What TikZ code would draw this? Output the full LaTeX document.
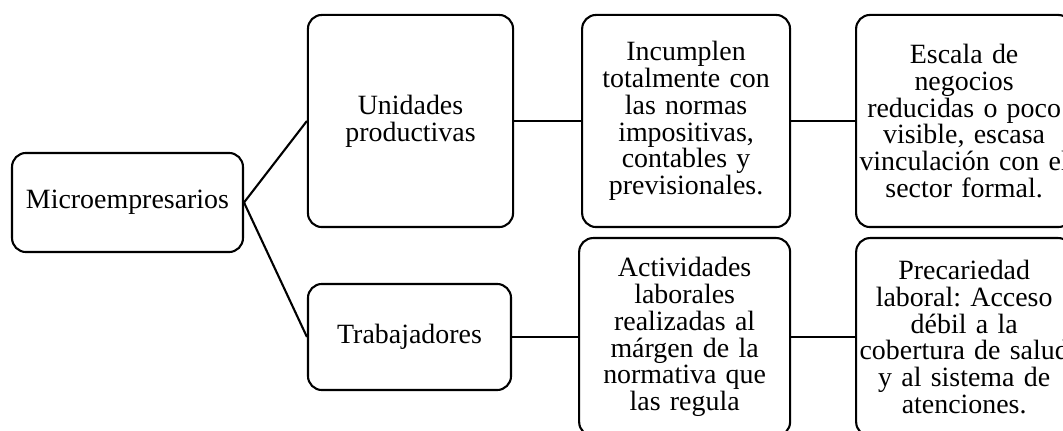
\documentclass[tikz,border=0pt]{standalone}
\usepackage{fontspec}
\setmainfont{Liberation Serif}
\frenchspacing
\usetikzlibrary{positioning}
\tikzstyle{box} = [draw, rounded corners=6pt, line width=0.9pt, align=center, inner sep=0pt, font=\fontsize{12}{11.5}\selectfont]
\tikzstyle{tall} = [box, minimum height=91.2pt]
\tikzstyle{link} = [draw, line width=0.9pt]

\begin{document}
\begin{tikzpicture}[x=0.43pt, y=-0.43pt]
\useasboundingbox (0,0) rectangle (1063,431);
\clip (0,0) rectangle (1063,431);

% left =============================
\node[box, minimum width=99.3pt, minimum height=42.6pt] (micro) at (127.5,202.5) {Microempresarios};

% upper row
\node[tall, minimum width=88.2pt, text width=88.2pt] (unid) at (410.5,121) {Unidades\\productivas};
\node[tall, right=28.8pt of unid, minimum width=89.4pt, text width=89.4pt] (incump) {Incumplen\\totalmente con\\las normas\\impositivas,\\contables y\\previsionales.};
\node[tall, right=27.5pt of incump, minimum width=92.9pt, text width=92.9pt] (escala) {Escala de\\negocios\\reducidas o poco\\visible, escasa\\vinculación con el\\sector formal.};

% lower row
\node[box, minimum width=87.3pt, minimum height=45.6pt] (trab) at (409.5,337) {Trabajadores};
\node[box, right=28.4pt of trab, minimum width=90.7pt, text width=90.7pt, minimum height=85.1pt] (activ) {Actividades\\laborales\\realizadas al\\márgen de la\\normativa que\\las regula};
\node[box, right=27.5pt of activ, minimum width=92.9pt, text width=92.9pt, minimum height=85.1pt] (precar) {Precariedad\\laboral: Acceso\\débil a la\\cobertura de salud\\y al sistema de\\atenciones.};

% edges
\path[link] (micro.east) -- (unid.west);
\path[link] (micro.east) -- (trab.west);
\path[link] (unid) -- (incump);
\path[link] (incump) -- (escala);
\path[link] (trab) -- (activ);
\path[link] (activ) -- (precar);

\end{tikzpicture}
\end{document}
